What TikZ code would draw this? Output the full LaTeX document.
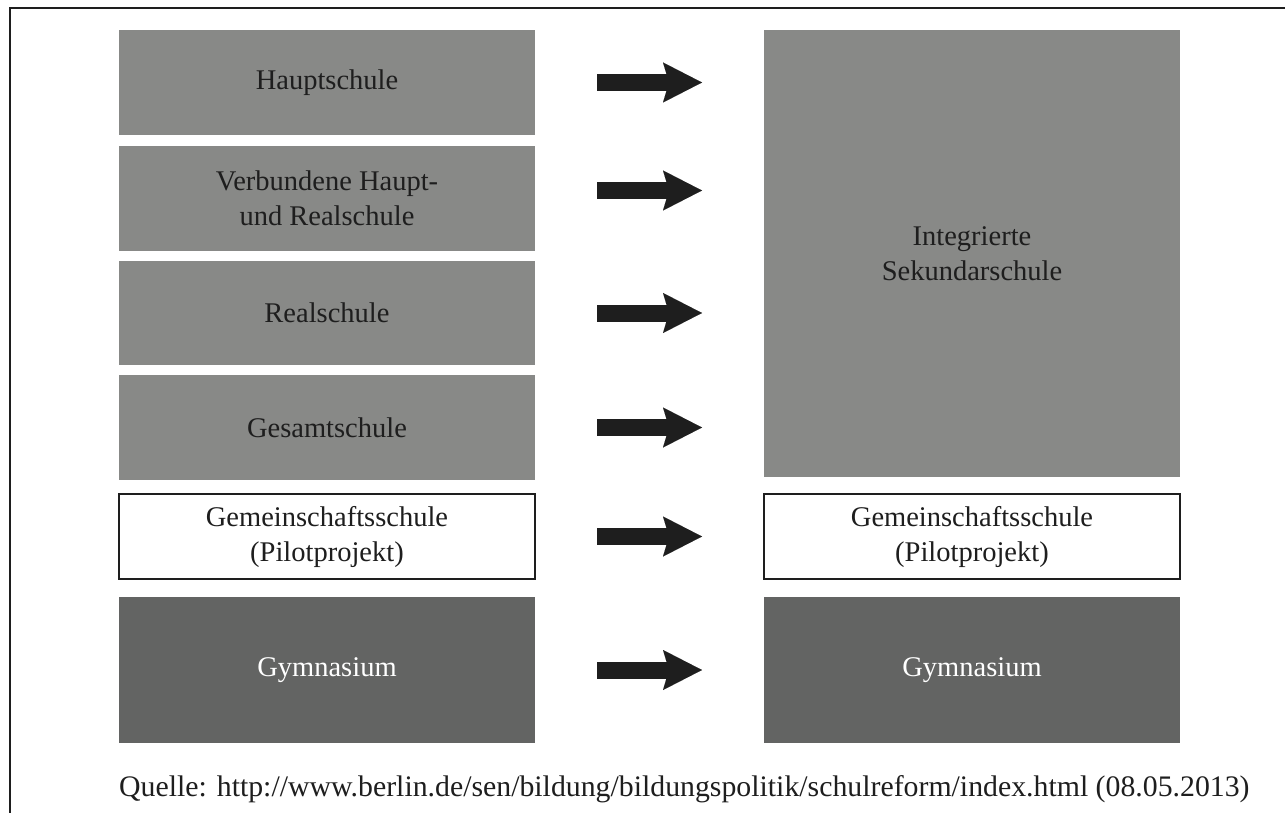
\documentclass[tikz,border=0pt]{standalone}
\usepackage{fontspec}
\setmainfont{Liberation Serif}
\usetikzlibrary{arrows.meta,calc}
\definecolor{boxgray}{HTML}{888987}
\definecolor{boxdark}{HTML}{636463}
\definecolor{ink}{HTML}{1E1E1E}
\begin{document}
\begin{tikzpicture}[x=1pt,y=-1pt,
  schoolbox/.style={anchor=north west, inner sep=0pt, outer sep=0pt,
    minimum width=416pt, align=center, text=ink,
    font=\fontsize{28.5pt}{35pt}\selectfont},
  graybox/.style={schoolbox, fill=boxgray},
  darkbox/.style={schoolbox, fill=boxdark, text=white},
  whitebox/.style={schoolbox, fill=white, draw=ink, line width=1.6pt},
  bigarrow/.style={draw=ink, line width=17pt,
    -{Stealth[length=39pt,width=40pt,inset=6pt,line width=0.01pt]},
    shorten <=62pt, shorten >=62pt},
  frameline/.style={draw=ink, line width=2pt}]
\useasboundingbox (0,0) rectangle (1285,813);
% page frame (top and left edges)
\coordinate (fb) at (10,813);
\coordinate (fc) at (10,8);
\coordinate (fr) at (1285,8);
\draw[frameline] (fb) -- (fc) -- (fr);
% left column: school types before the reform
\node[graybox, minimum height=105pt] (haupt) at (119,30) {Hauptschule};
\node[graybox, minimum height=105pt] (verb) at (119,146) {Verbundene Haupt-\\und Realschule};
\node[graybox, minimum height=104pt] (real) at (119,261) {Realschule};
\node[graybox, minimum height=105pt] (gesamt) at (119,375) {Gesamtschule};
\node[whitebox, minimum height=85pt] (gemL) at (119,494) {Gemeinschaftsschule\\(Pilotprojekt)};
\node[darkbox, minimum height=146pt] (gymL) at (119,597) {Gymnasium};
% right column: school types after the reform
\node[graybox, minimum height=447pt] (iss) at (764,30) {Integrierte\\Sekundarschule};
\node[whitebox, minimum height=85pt] (gemR) at (764,494) {Gemeinschaftsschule\\(Pilotprojekt)};
\node[darkbox, minimum height=146pt] (gymR) at (764,597) {Gymnasium};
% transition arrows
\draw[bigarrow] (haupt.east) -- (haupt.east -| iss.west);
\draw[bigarrow] ([yshift=8pt]verb.east) -- ([yshift=8pt]verb.east -| iss.west);
\draw[bigarrow] (real.east) -- (real.east -| iss.west);
\draw[bigarrow] (gesamt.east) -- (gesamt.east -| iss.west);
\draw[bigarrow] (gemL.east) -- (gemR.west);
\draw[bigarrow] (gymL.east) -- (gymR.west);
% source line
\node[anchor=base west, inner sep=0pt, text=ink, font=\fontsize{29.8pt}{32pt}\selectfont] (src) at (119,796)
  {Quelle: http://www.berlin.de/sen/bildung/bildungspolitik/schulreform/index.html (08.05.2013)};
\end{tikzpicture}
\end{document}
